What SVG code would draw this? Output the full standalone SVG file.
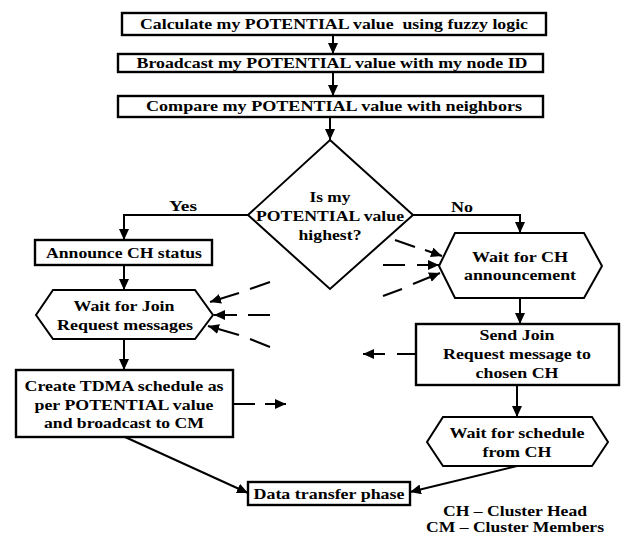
<svg xmlns="http://www.w3.org/2000/svg" width="622" height="534" viewBox="0 0 622 534">
<defs>
<style>
.box{fill:#fff;stroke:#000;stroke-width:2.4}
.sh{fill:#fff;stroke:#000;stroke-width:2}
.t{font-family:"Liberation Serif","Times New Roman",serif;font-weight:bold;font-size:15px;fill:#000;text-anchor:middle}
.pre{white-space:pre}
.c{fill:none;stroke:#000;stroke-width:2}
.a{marker-end:url(#ah)}
</style>
<marker id="ah" markerUnits="userSpaceOnUse" markerWidth="12" markerHeight="10" refX="11" refY="5" orient="auto">
<path d="M0,0 L11,5 L0,10 Z" fill="#000"/>
</marker>
</defs>
<rect width="622" height="534" fill="#fff"/>

<g id="connectors">
<path class="c a" d="M333,35 V54"/>
<path class="c a" d="M333,72 V96"/>
<path class="c a" d="M330,117 V140"/>
<path class="c a" d="M248,215 H124 V240"/>
<path class="c a" d="M124,265 V290"/>
<path class="c a" d="M124,339 V370"/>
<path class="c a" d="M125,437 L248,493"/>
<path class="c a" d="M413,215 H520 V233"/>
<path class="c a" d="M520,298 V324"/>
<path class="c a" d="M517,385 V417"/>
<path class="c a" d="M517,466 L410,492"/>
<path class="c" d="M395,240 L415,247"/>
<path class="c a" d="M425,250 L442,256"/>
<path class="c" d="M383,265 L405,265"/>
<path class="c a" d="M417,265 L439,265"/>
<path class="c" d="M383,296 L402,289"/>
<path class="c a" d="M413,284 L440,273"/>
<path class="c" d="M270,282 L250,289"/>
<path class="c a" d="M239,293 L210,302"/>
<path class="c" d="M270,315 L248,315"/>
<path class="c a" d="M237,315 L214,315"/>
<path class="c" d="M270,347 L250,339"/>
<path class="c a" d="M239,335 L208,326"/>
<path class="c" d="M233,404 L255,404"/>
<path class="c a" d="M265,404 L286,404"/>
<path class="c" d="M416,354 L397,354"/>
<path class="c a" d="M385,354 L363,354"/>
</g>

<g id="calc">
<rect class="box" x="122" y="13" width="424" height="22"/>
<text class="t pre" x="334" y="29" textLength="388" lengthAdjust="spacingAndGlyphs">Calculate my POTENTIAL value  using fuzzy logic</text>
</g>
<g id="broadcast">
<rect class="box" x="118" y="54" width="425" height="18"/>
<text class="t" x="332" y="68" textLength="391" lengthAdjust="spacingAndGlyphs">Broadcast my POTENTIAL value with my node ID</text>
</g>
<g id="compare">
<rect class="box" x="118" y="96" width="425" height="21"/>
<text class="t" x="334" y="111" textLength="376" lengthAdjust="spacingAndGlyphs">Compare my POTENTIAL value with neighbors</text>
</g>
<g id="decision">
<polygon class="sh" points="330,140 413,215 330,289 248,215"/>
<text class="t" x="330" y="202" textLength="41" lengthAdjust="spacingAndGlyphs">Is my</text>
<text class="t" x="330" y="221" textLength="148" lengthAdjust="spacingAndGlyphs">POTENTIAL value</text>
<text class="t" x="330" y="240" textLength="63" lengthAdjust="spacingAndGlyphs">highest?</text>
</g>
<g id="yes-label"><text class="t" x="183" y="211" textLength="28" lengthAdjust="spacingAndGlyphs">Yes</text></g>
<g id="no-label"><text class="t" x="462" y="212" textLength="22" lengthAdjust="spacingAndGlyphs">No</text></g>
<g id="announce">
<rect class="box" x="35" y="240" width="177" height="25"/>
<text class="t" x="124" y="258" textLength="156" lengthAdjust="spacingAndGlyphs">Announce CH status</text>
</g>
<g id="waitjoin">
<polygon class="sh" points="53,290 195,290 213,315 195,339 53,339 36,315"/>
<text class="t" x="124" y="311" textLength="101" lengthAdjust="spacingAndGlyphs">Wait for Join</text>
<text class="t" x="125" y="330" textLength="136" lengthAdjust="spacingAndGlyphs">Request messages</text>
</g>
<g id="tdma">
<rect class="box" x="16" y="370" width="217" height="67"/>
<text class="t" x="124" y="391" textLength="199" lengthAdjust="spacingAndGlyphs">Create TDMA schedule as</text>
<text class="t" x="124" y="410" textLength="179" lengthAdjust="spacingAndGlyphs">per POTENTIAL value</text>
<text class="t" x="124" y="428" textLength="160" lengthAdjust="spacingAndGlyphs">and broadcast to CM</text>
</g>
<g id="data">
<rect class="box" x="248" y="482" width="162" height="23"/>
<text class="t" x="329" y="499" textLength="151" lengthAdjust="spacingAndGlyphs">Data transfer phase</text>
</g>
<g id="waitch">
<polygon class="sh" points="455,233 584,233 602,266 584,298 455,298 439,266"/>
<text class="t" x="520" y="262" textLength="96" lengthAdjust="spacingAndGlyphs">Wait for CH</text>
<text class="t" x="520" y="280" textLength="112" lengthAdjust="spacingAndGlyphs">announcement</text>
</g>
<g id="sendjoin">
<rect class="box" x="416" y="324" width="203" height="61"/>
<text class="t" x="517" y="340" textLength="75" lengthAdjust="spacingAndGlyphs">Send Join</text>
<text class="t" x="517" y="359" textLength="148" lengthAdjust="spacingAndGlyphs">Request message to</text>
<text class="t" x="517" y="378" textLength="83" lengthAdjust="spacingAndGlyphs">chosen CH</text>
</g>
<g id="waitsched">
<polygon class="sh" points="443,417 592,417 608,442 592,466 443,466 427,442"/>
<text class="t" x="517" y="438" textLength="135" lengthAdjust="spacingAndGlyphs">Wait for schedule</text>
<text class="t" x="517" y="457" textLength="69" lengthAdjust="spacingAndGlyphs">from CH</text>
</g>
<g id="legend">
<text class="t" x="515" y="516" textLength="144" lengthAdjust="spacingAndGlyphs">CH – Cluster Head</text>
<text class="t" x="515" y="532" textLength="178" lengthAdjust="spacingAndGlyphs">CM – Cluster Members</text>
</g>
</svg>
